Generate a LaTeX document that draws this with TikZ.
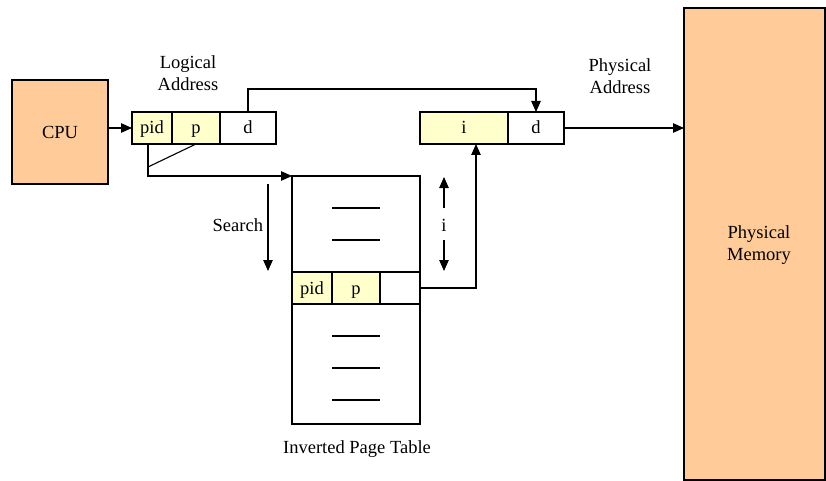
\documentclass[tikz,border=0pt]{standalone}
\usepackage{fontspec}
\setmainfont{Liberation Serif}
\usetikzlibrary{arrows.meta,calc}
\definecolor{peach}{HTML}{FFCC99}
\definecolor{paleyellow}{HTML}{FFFFCC}
\begin{document}
\begin{tikzpicture}[x=1pt,y=-1pt,
  line width=1.1pt,
  every node/.style={font=\fontsize{18.5}{22}\selectfont, inner sep=0pt, outer sep=0pt},
  cell/.style={draw, anchor=north west, minimum height=32pt, text height=12pt, text depth=0pt},
  keycell/.style={cell, fill=paleyellow},
  block/.style={draw, fill=peach, anchor=north west},
  arr/.style={-{Triangle[length=11pt,width=9.5pt]}},
  lbl/.style={align=center}]
\useasboundingbox (0,0) rectangle (826,481);

% CPU and physical memory
\node[block, minimum width=96pt, minimum height=104pt] (cpu) at (12,80) {CPU};
\node[block, minimum width=141pt, minimum height=472pt] (mem) at (684,8) {};
\node[lbl] (memtxt) at (759,245) {Physical\\Memory};

% logical address
\node[keycell, minimum width=40pt] (pidL) at (132,112) {pid};
\node[keycell, minimum width=48pt] (pL) at (172,112) {p};
\node[cell, minimum width=56pt] (dL) at (220,112) {d};
\node[lbl] (logtxt) at (188,73) {Logical\\Address};

% physical address
\node[keycell, minimum width=88pt] (iP) at (420,112) {i};
\node[cell, minimum width=56pt] (dP) at (508,112) {d};
\node[lbl] (phystxt) at (620,76) {Physical\\Address};

% inverted page table
\node[draw, anchor=north west, minimum width=128pt, minimum height=248pt] (tbl) at (292,176) {};
\node[keycell, minimum width=40pt] (pidT) at (292,272) {pid};
\node[keycell, minimum width=48pt] (pT) at (332,272) {p};
\node[cell, minimum width=40pt] (eT) at (380,272) {};
\foreach \yy/\nm in {208/a,240/b,336/c,368/d,400/e}
  \draw (332,\yy) coordinate (r\nm l) -- (380,\yy) coordinate (r\nm r);
\node (tbltxt) at (357,449) {Inverted Page Table};

% connectors
\draw[arr] (cpu.east |- pidL.west) -- (pidL.west);
\draw[arr] (dL.north) -- ++(0,-23) -| (dP.north);
\draw[arr] (dP.east) -- (mem.west |- dP.east);
\coordinate (pidfoot) at ([xshift=-4pt]pidL.south);
\coordinate (branch) at (148,167);
\draw (pL.south) -- (branch);
\draw[arr] (pidfoot) |- (tbl.north west);
\draw[arr] (eT.east) -| ([xshift=12pt]iP.south);

% search direction and index marker
\coordinate (s1) at (268,184);
\coordinate (s2) at (268,271);
\draw[arr] (s1) -- (s2);
\node[anchor=east] (searchtxt) at (263,225) {Search};
\node (itxt) at (444,225) {i};
\coordinate (i1) at (444,208);
\coordinate (i2) at (444,177);
\coordinate (i3) at (444,240);
\coordinate (i4) at (444,271);
\draw[arr] (i1) -- (i2);
\draw[arr] (i3) -- (i4);
\end{tikzpicture}
\end{document}
